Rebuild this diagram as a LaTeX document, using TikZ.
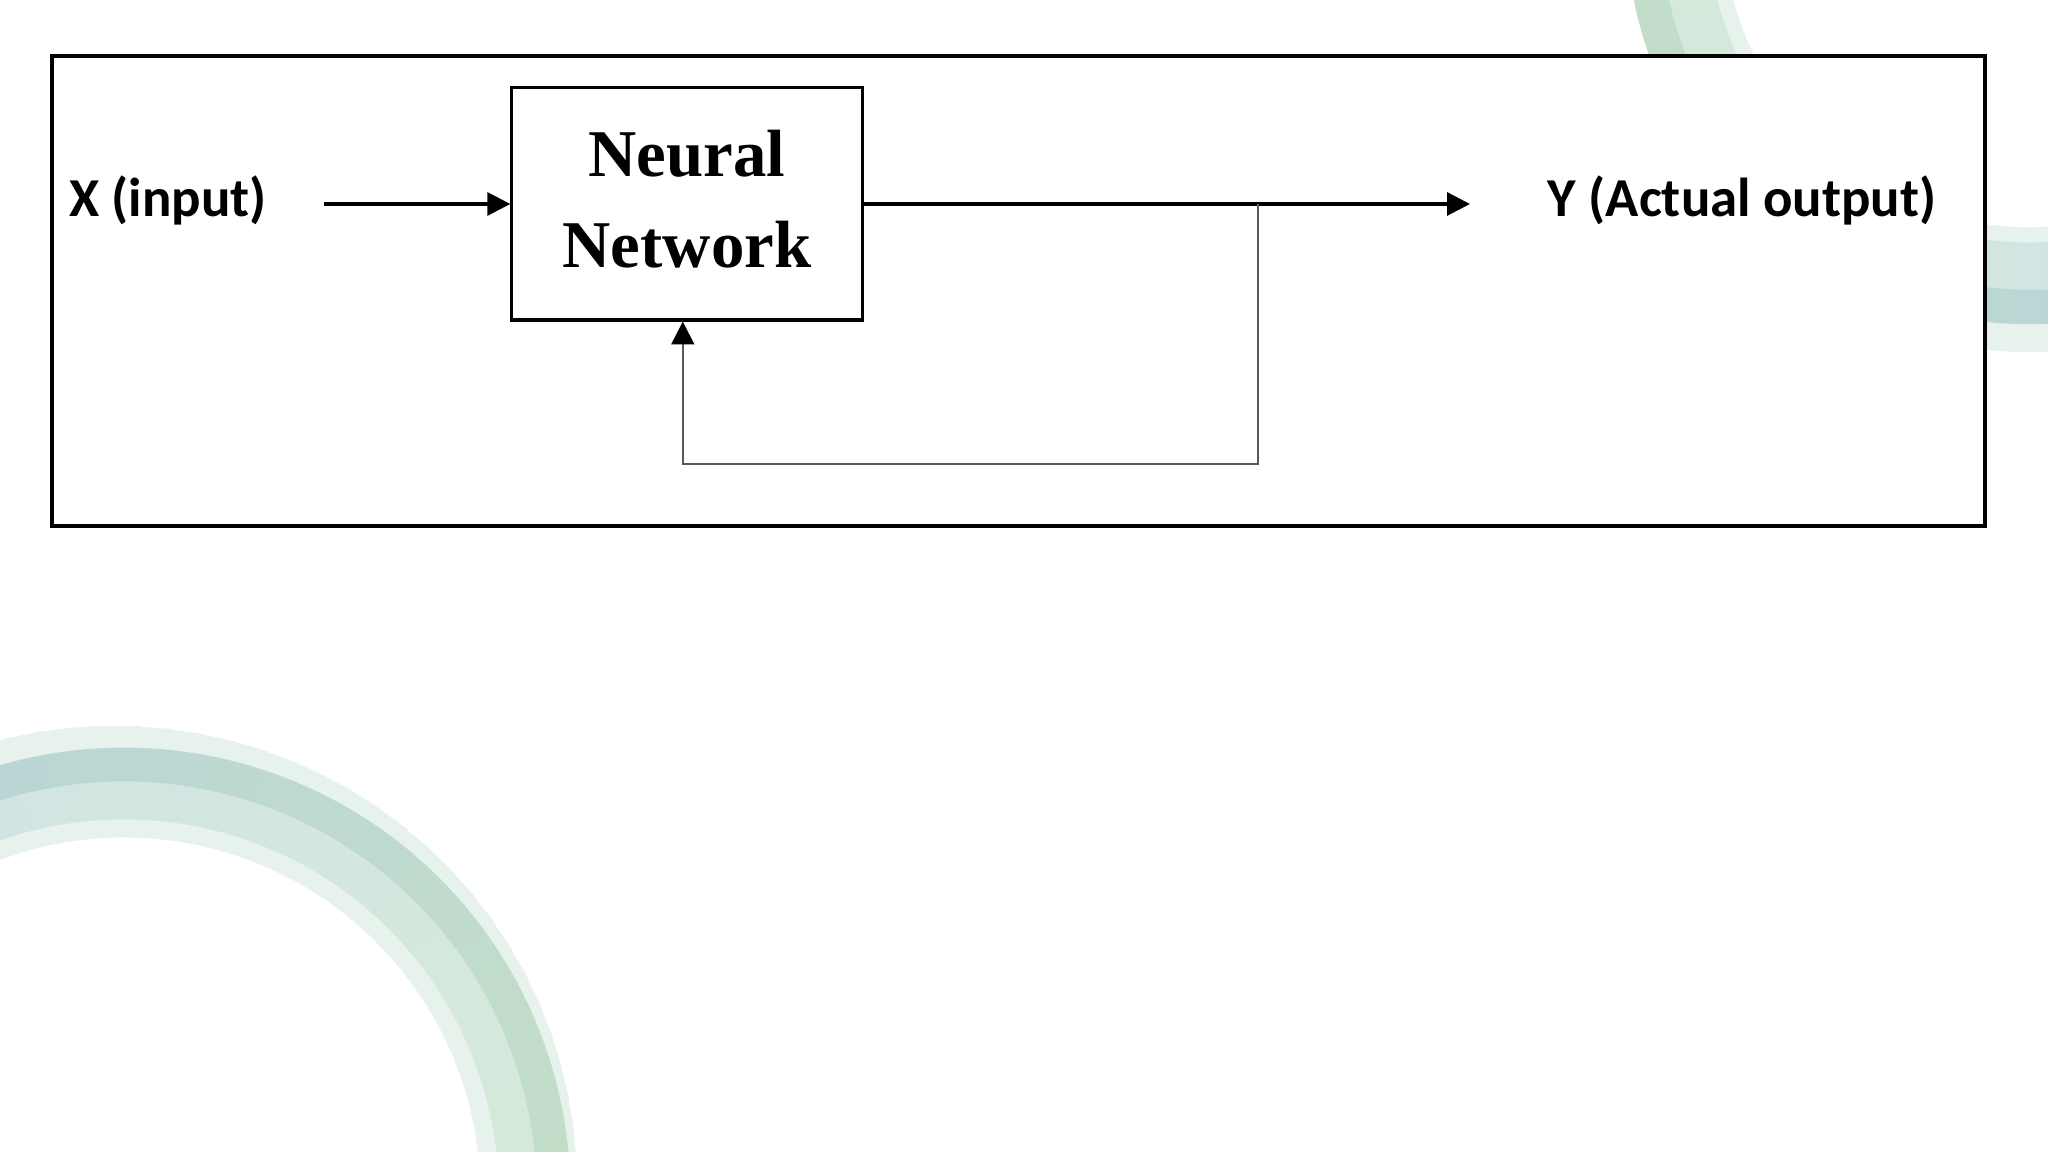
\documentclass[tikz,border=0pt]{standalone}
\usepackage{fontspec}
\usepackage{tikz}
\usetikzlibrary{arrows.meta}
\newfontfamily\labelfont{Carlito}
\newfontfamily\nnfont{Liberation Serif}
\definecolor{bandgreen}{HTML}{C3DEC8}
\definecolor{bandteal}{HTML}{B9D5D6}
\definecolor{midgreen}{HTML}{D5E9DA}
\definecolor{midteal}{HTML}{D1E4E3}
\definecolor{palegreen}{HTML}{E7F2EC}

\begin{document}
\begin{tikzpicture}[x=0.01cm, y=0.01cm,
    lbl/.style={font=\labelfont\bfseries\fontsize{15.6}{18}\selectfont},
    nnbox/.style={draw, line width=0.9pt, minimum width=3.5cm, minimum height=2.32cm,
                  align=center, font=\nnfont\bfseries\fontsize{19}{26}\selectfont},
    arr/.style={-{Triangle[length=6.5pt,width=6.5pt]}, line width=0.9pt},
    fb/.style={gray!70!black, line width=0.65pt}]
  \useasboundingbox (0,0) rectangle (2048,1152);

  % green swooshes behind the frame
  \begin{scope}
    \clip (0,0) rectangle (2048,1152);
    \foreach \a in {0,4,...,116} {
      \pgfmathtruncatemacro\m{100*\a/116}
      \pgfmathsetmacro\w{2+5.6*\a/116}
      \draw[palegreen, line width=\w pt] (124,-42) ++(\a:{446+\w/0.57}) arc[start angle=\a, end angle=\a+5, radius={446+\w/0.57}];
      \draw[palegreen, line width=5.4pt] (124,-42) ++(\a:366) arc[start angle=\a, end angle=\a+5, radius=366];
      \draw[midteal!\m!midgreen, line width=11pt] (124,-42) ++(\a:394) arc[start angle=\a, end angle=\a+5, radius=394];
      \draw[bandteal!\m!bandgreen, line width=9.6pt] (124,-42) ++(\a:429.5) arc[start angle=\a, end angle=\a+5, radius=429.5];
    }
    \foreach \a in {184,188,...,284} {
      \pgfmathtruncatemacro\m{\a-184}
      \ifnum\a>232
        \draw[palegreen, line width=8pt] (2030,1232) ++(\a:418) arc[start angle=\a, end angle=\a+5, radius=418];
      \fi
      \draw[palegreen, line width=4.6pt] (2030,1232) ++(\a:315.5) arc[start angle=\a, end angle=\a+5, radius=315.5];
      \draw[midteal!\m!midgreen, line width=13.6pt] (2030,1232) ++(\a:346.5) arc[start angle=\a, end angle=\a+5, radius=346.5];
      \draw[bandteal!\m!bandgreen, line width=9.8pt] (2030,1232) ++(\a:387) arc[start angle=\a, end angle=\a+5, radius=387];
    }
  \end{scope}

  \draw[line width=0.9pt, fill=white] (52,626) rectangle (1985,1096);

  \node[lbl] (xin) at (168,952) {X (input)};
  \node[nnbox] (nn) at (687,948) {Neural\\Network\rule[-3pt]{0pt}{0pt}};
  \node[lbl] (yout) at (1742,952) {Y (Actual output)};
  \coordinate (xtail) at (324,948);
  \coordinate (ytip) at (1470,948);
  \coordinate (fork) at (1258,948);
  \coordinate (loop) at (1258,688);

  \draw[arr] (xtail) -- (nn.west);
  \draw[arr] (nn.east) -- (ytip);
  \draw[fb, -{Triangle[length=6.5pt,width=6.5pt,black]}] (fork) -- (loop) -| ([xshift=-1.2pt]nn.south);
\end{tikzpicture}
\end{document}
